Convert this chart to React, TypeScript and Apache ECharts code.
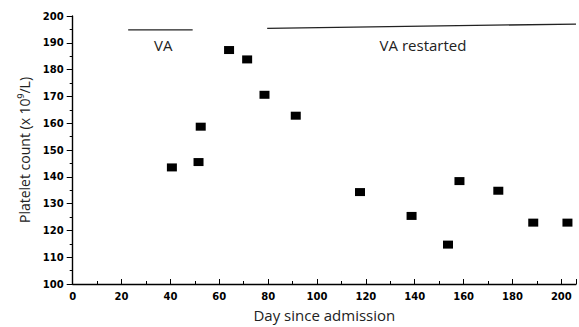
import React, { useEffect, useRef } from "react";
import * as echarts from "echarts";

const days = [40.6, 51.5, 52.4, 64.0, 71.4, 78.5, 91.3, 117.6, 138.7, 153.6, 158.3, 174.2, 188.5, 202.5];
const platelets = [143.5, 145.5, 158.7, 187.3, 183.8, 170.6, 162.8, 134.3, 125.4, 114.7, 138.4, 134.8, 122.9, 122.9];
const vaLineDays = [22.7, 49.1];
const vaLineValues = [194.8, 194.8];
const vaRestartDays = [79.6, 206];
const vaRestartValues = [195.4, 197.0];
const xTickLabels = [0, 20, 40, 60, 80, 100, 120, 140, 160, 180, 200];

export default function App() {
  const ref = useRef<HTMLDivElement>(null);
  useEffect(() => {
    if (!ref.current) return;
    const chart = echarts.init(ref.current, null, { renderer: "svg" });
    const labelStyle = {
      fontFamily: "DejaVu Sans",
      fontWeight: "bold" as const,
      fontSize: 10,
      color: "#000",
    };
    chart.setOption({
      animation: false,
      backgroundColor: "#fff",
      grid: { left: 72.7, right: 2.6, top: 16, bottom: 43 },
      xAxis: {
        type: "value",
        min: 0,
        max: 206,
        interval: 20,
        splitLine: { show: false },
        axisLine: { lineStyle: { color: "#000", width: 1.4 } },
        axisTick: { inside: true, length: 5, lineStyle: { color: "#000" } },
        minorTick: { show: true, splitNumber: 2, length: 3, lineStyle: { color: "#000" } },
        axisLabel: {
          ...labelStyle,
          margin: 7,
          formatter: (v: number) => (xTickLabels.includes(v) ? String(v) : ""),
        },
        name: "Day since admission",
        nameLocation: "middle",
        nameGap: 23,
        nameTextStyle: { fontFamily: "Open Sans", fontSize: 15, color: "#222" },
      },
      yAxis: {
        type: "value",
        min: 100,
        max: 200,
        interval: 10,
        splitLine: { show: false },
        axisLine: { show: true, lineStyle: { color: "#000", width: 1.4 } },
        axisTick: { show: true, inside: false, length: 6, lineStyle: { color: "#000" } },
        minorTick: { show: true, splitNumber: 2, length: 3, lineStyle: { color: "#000" } },
        axisLabel: { ...labelStyle, margin: 9 },
        name: "Platelet count (x 10⁹/L)",
        nameLocation: "middle",
        nameGap: 35,
        nameTextStyle: { fontFamily: "Open Sans", fontSize: 14, color: "#222" },
      },
      series: [
        {
          type: "scatter",
          data: days.map((d, i) => [d, platelets[i]]),
          symbol: "rect",
          symbolSize: [10, 8],
          itemStyle: { color: "#000", opacity: 1 },
        },
        {
          type: "line",
          data: vaLineDays.map((d, i) => [d, vaLineValues[i]]),
          symbol: "none",
          lineStyle: { color: "#222", width: 1.3 },
        },
        {
          type: "line",
          data: vaRestartDays.map((d, i) => [d, vaRestartValues[i]]),
          symbol: "none",
          lineStyle: { color: "#222", width: 1.3 },
        },
      ],
      graphic: [
        {
          type: "text",
          x: 163.3,
          y: 45,
          style: {
            text: "VA",
            fontFamily: "Open Sans",
            fontSize: 15,
            fill: "#222",
            align: "center",
            verticalAlign: "middle",
          },
        },
        {
          type: "text",
          x: 423,
          y: 45,
          style: {
            text: "VA restarted",
            fontFamily: "Open Sans",
            fontSize: 15,
            fill: "#222",
            align: "center",
            verticalAlign: "middle",
          },
        },
      ],
    });
    return () => chart.dispose();
  }, []);
  return (
    <div
      ref={ref}
      style={{ position: "absolute", left: 0, top: 0, width: 579, height: 327 }}
    />
  );
}
